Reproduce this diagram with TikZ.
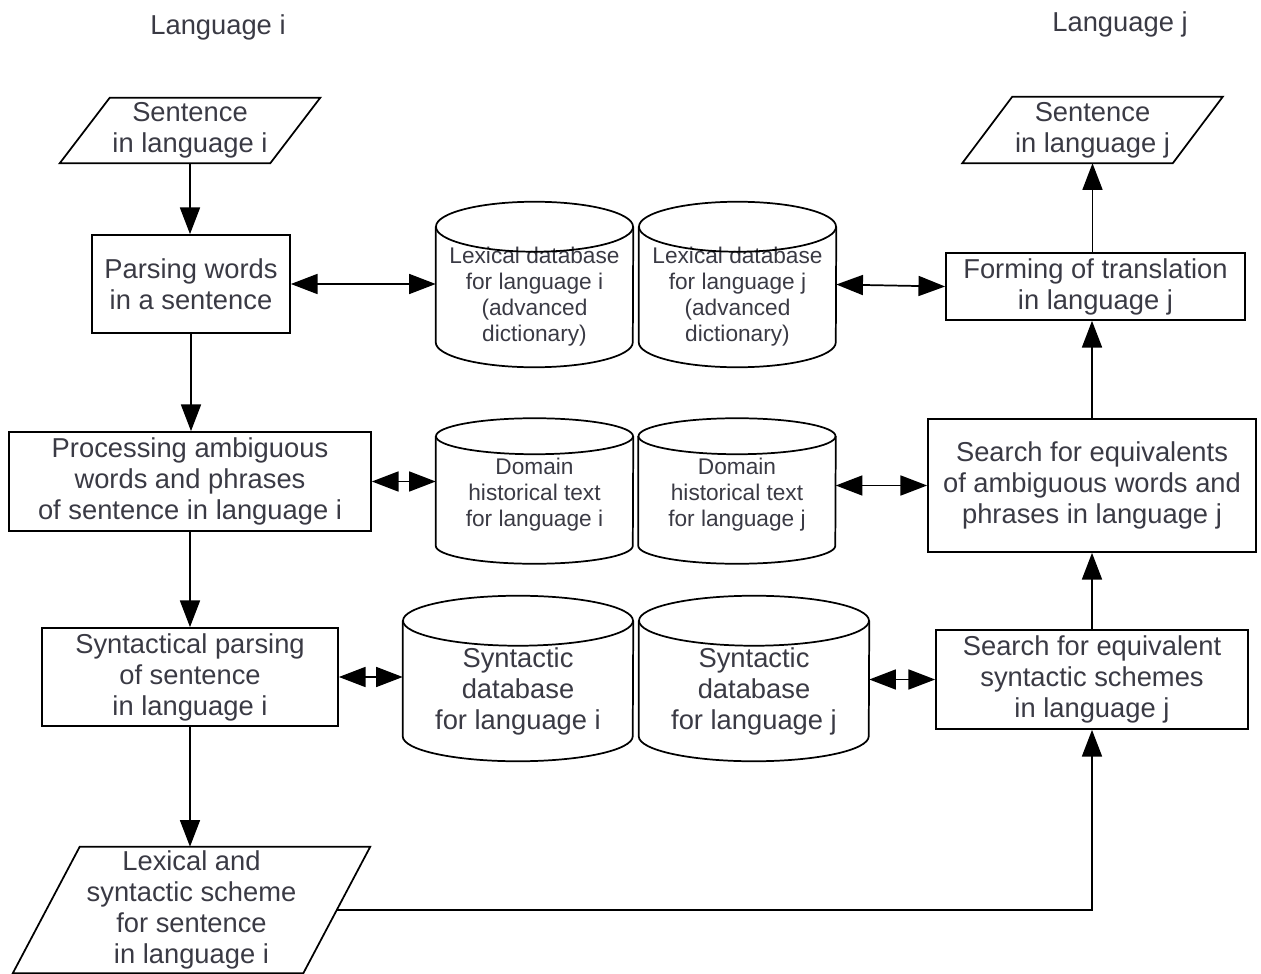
\documentclass[tikz,border=0pt]{standalone}
\usepackage{fontspec}
\setmainfont{Liberation Sans}
\usetikzlibrary{arrows.meta}

\definecolor{txtc}{RGB}{58,58,68}

\tikzset{
  shp/.style={line width=1.3pt, draw=black},
  box/.style={shp, inner sep=0pt, align=center, text=txtc, font=\fontsize{20.5}{23.25}\selectfont},
  para/.style={inner sep=0pt, align=center, text=txtc, font=\fontsize{20.5}{23.25}\selectfont},
  db/.style={inner sep=0pt},
  dbtxt/.style={inner sep=0pt, align=center, text=txtc, font=\fontsize{20.5}{23.25}\selectfont},
  dbsmall/.style={inner sep=0pt, align=center, text=txtc, font=\fontsize{17}{19.5}\selectfont},
  arr/.style={line width=1.3pt, -{Triangle[length=20pt,width=15pt]}},
  darr/.style={line width=1.3pt, {Triangle[length=20pt,width=15pt]}-{Triangle[length=20pt,width=15pt]}}
}

\newcommand{\paraedge}[2]{%
  \draw[shp] ([xshift=#2]#1.north west) -- ([xshift=#2]#1.north east)
    -- ([xshift=-#2]#1.south east) -- ([xshift=-#2]#1.south west) -- cycle;}
\newcommand{\dbedge}[3]{%
  \draw[shp] ([yshift=-#3]#1.north west) -- ([yshift=#3]#1.south west)
    arc[start angle=180, end angle=360, x radius=#2, y radius=#3]
    -- ([yshift=-#3]#1.north east);
  \draw[shp] ([yshift=-#3]#1.north) ellipse[x radius=#2, y radius=#3];}

\begin{document}
\begin{tikzpicture}[x=0.75pt,y=-0.75pt]
\useasboundingbox (0,0) rectangle (1261,974);

\node[para] (langI) at (218,27) {Language i};
\node[para] (langJ) at (1120,24) {Language j};

% language i side
\node[para, minimum width=157.5pt, minimum height=48.75pt] (inI) at (190,130.5) {Sentence\\in language i};
\node[box, minimum width=148.5pt, minimum height=73.5pt] (parse) at (191,284) {Parsing words\\in a sentence};
\node[box, minimum width=271.5pt, minimum height=74.25pt] (proc) at (190,481.5) {Processing ambiguous\\words and phrases\\of sentence in language i};
\node[box, minimum width=222pt, minimum height=73.5pt] (syntI) at (190,677) {Syntactical parsing\\of sentence\\in language i};
\node[para, minimum width=217.5pt, minimum height=94.5pt] (lexsyn) at (191.5,910) {Lexical and\\syntactic scheme\\for sentence\\in language i};

% databases
\node[db, minimum width=147.75pt, minimum height=123.75pt] (lexI) at (534.5,284.5) {};
\node[db, minimum width=147.75pt, minimum height=123.75pt] (lexJ) at (737.5,284.5) {};
\node[db, minimum width=147.75pt, minimum height=108.75pt] (domI) at (534.5,491) {};
\node[db, minimum width=147.75pt, minimum height=108.75pt] (domJ) at (737,491) {};
\node[db, minimum width=172.5pt, minimum height=123.75pt] (synI) at (518,678.5) {};
\node[db, minimum width=172.5pt, minimum height=123.75pt] (synJ) at (754,678.5) {};

\node[dbsmall] (lexIt) at ([yshift=-9.4pt]lexI.center) {Lexical database\\for language i\\(advanced\\dictionary)};
\node[dbsmall] (lexJt) at ([yshift=-9.4pt]lexJ.center) {Lexical database\\for language j\\(advanced\\dictionary)};
\node[dbsmall] (domIt) at ([yshift=-3pt]domI.center) {Domain\\historical text\\for language i};
\node[dbsmall] (domJt) at ([yshift=-3pt]domJ.center) {Domain\\historical text\\for language j};
\node[dbtxt] (synIt) at ([yshift=-9.4pt]synI.center) {Syntactic\\database\\for language i};
\node[dbtxt] (synJt) at ([yshift=-9.4pt]synJ.center) {Syntactic\\database\\for language j};

% language j side
\node[para, minimum width=157.5pt, minimum height=49.5pt] (outJ) at (1092.5,130) {Sentence\\in language j};
\node[box, minimum width=224.25pt, minimum height=50.25pt] (formJ) at (1095.5,286.5) {Forming of translation\\in language j};
\node[box, minimum width=246pt, minimum height=99.75pt] (searchA) at (1092,485.5) {Search for equivalents\\of ambiguous words and\\phrases in language j};
\node[box, minimum width=234pt, minimum height=74.25pt] (searchS) at (1092,679.5) {Search for equivalent\\syntactic schemes\\in language j};

\paraedge{inI}{18.75pt}
\paraedge{outJ}{18.75pt}
\paraedge{lexsyn}{25.1pt}
\foreach \n/\rx/\ry in {lexI/73.9/18.75, lexJ/73.9/18.75, domI/73.9/13.5, domJ/73.9/13.5, synI/86.25/18.75, synJ/86.25/18.75}
  \dbedge{\n}{\rx pt}{\ry pt};

\draw[arr] (inI.south) -- (inI.south |- parse.north);
\draw[arr] (parse.south) -- (parse.south |- proc.north);
\draw[arr] (proc.south) -- (proc.south |- syntI.north);
\draw[arr] (syntI.south) -- (syntI.south |- lexsyn.north);
\draw[arr] (lexsyn.east) -| (searchS.south);
\draw[arr] (searchS.north) -- (searchS.north |- searchA.south);
\draw[arr] (searchA.north) -- (searchA.north |- formJ.south);
\draw[arr] (formJ.north -| outJ.south) -- (outJ.south);

\draw[darr] (parse.east) -- (parse.east -| lexI.west);
\draw[darr] (lexJ.east) -- (formJ.west);
\draw[darr] (proc.east) -- (proc.east -| domI.west);
\draw[darr] (domJ.east |- searchA.west) -- (searchA.west);
\draw[darr] (syntI.east) -- (syntI.east -| synI.west);
\draw[darr] (synJ.east |- searchS.west) -- (searchS.west);
\end{tikzpicture}
\end{document}
